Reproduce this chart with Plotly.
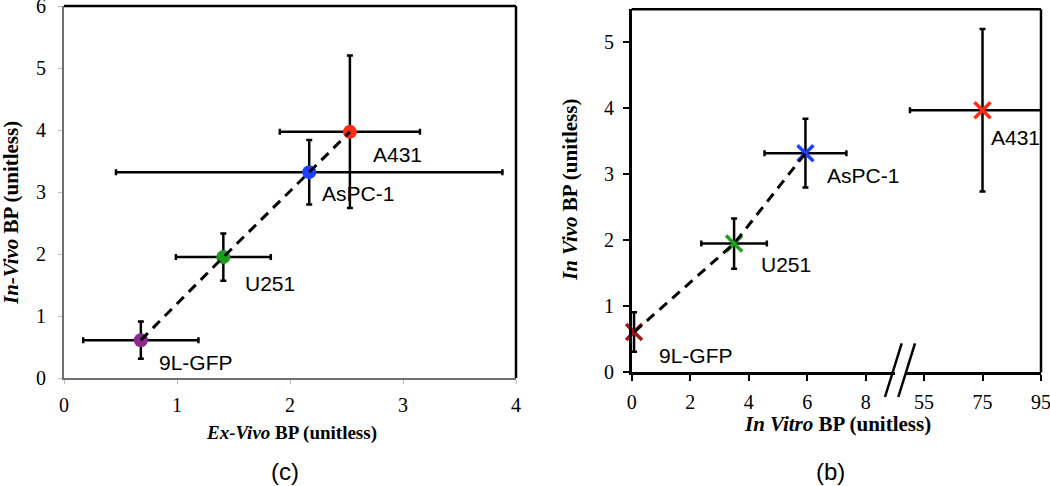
import plotly.graph_objects as go

# ---------------- data ----------------
cell_lines = ["9L-GFP", "U251", "AsPC-1", "A431"]

# panel (c): ex-vivo vs in-vivo binding potential
exvivo_bp = [0.68, 1.41, 2.17, 2.53]
exvivo_err = [0.51, 0.42, 1.71, 0.62]

# in-vivo binding potential (shared by both panels)
invivo_bp = [0.61, 1.95, 3.32, 3.97]
invivo_err = [0.30, 0.38, 0.52, 1.23]

# panel (b): in-vitro binding potential (broken x axis)
invitro_bp = [0.08, 3.50, 5.94, 75.0]
invitro_err = [0.05, 1.12, 1.40, 24.8]

left_ticks = [0, 1, 2, 3, 4]
left_yticks = [0, 1, 2, 3, 4, 5, 6]
right_low_ticks = [0, 2, 4, 6, 8]
right_high_ticks = [55, 75, 95]
right_yticks = [0, 1, 2, 3, 4, 5]

# ---------------- styles ----------------
W, H = 1050, 486
SERIF = "Liberation Serif"
SANS = "Liberation Sans"
circle_colors = ["#8b2a8b", "#1f9a1f", "#1e40ff", "#ff2b12"]
cross_colors = ["#a8161a", "#22a022", "#1e40ff", "#ff2b12"]
# label offsets in screen pixels (right, down) from the data point
left_label_shift = {"9L-GFP": (16, 22), "U251": (20, 26), "AsPC-1": (11, 21), "A431": (21, 23)}
right_label_shift = {"9L-GFP": (23, 23), "U251": (25, 21), "AsPC-1": (20, 22), "A431": (6, 27)}


def px(x):
    return x / W


def py(y):
    return min(1.0, 1 - y / H)


fig = go.Figure()

EB = dict(type="data", color="black", thickness=2.5, width=3)

# ---- left panel (c) ----
for i, name in enumerate(cell_lines):
    fig.add_trace(go.Scatter(
        x=[exvivo_bp[i]], y=[invivo_bp[i]], mode="markers",
        marker=dict(symbol="circle", size=14, color=circle_colors[i]),
        error_x=dict(array=[exvivo_err[i]], **EB),
        error_y=dict(array=[invivo_err[i]], **EB),
        xaxis="x", yaxis="y", showlegend=False, cliponaxis=False))
fig.add_trace(go.Scatter(
    x=exvivo_bp, y=invivo_bp, mode="lines",
    line=dict(color="black", width=3, dash="10px,7px"),
    xaxis="x", yaxis="y", showlegend=False))

# ---- right panel (b) ----
for i, name in enumerate(cell_lines):
    xa = "x3" if invitro_bp[i] > 20 else "x2"
    fig.add_trace(go.Scatter(
        x=[invitro_bp[i]], y=[invivo_bp[i]], mode="markers",
        marker=dict(symbol="x-thin", size=16, line=dict(color=cross_colors[i], width=3.5)),
        error_x=dict(array=[invitro_err[i]], **EB),
        error_y=dict(array=[invivo_err[i]], **EB),
        xaxis=xa, yaxis="y2", showlegend=False, cliponaxis=False))
low_x = [v for v in invitro_bp if v < 20]
low_y = [invivo_bp[i] for i, v in enumerate(invitro_bp) if v < 20]
fig.add_trace(go.Scatter(
    x=low_x, y=low_y, mode="lines",
    line=dict(color="black", width=3, dash="10px,7px"),
    xaxis="x2", yaxis="y2", showlegend=False))

# ---------------- axes ----------------
tickfont_l = dict(family=SERIF, size=20, color="black")
tickfont_r = dict(family=SERIF, size=20, color="black")
common = dict(showgrid=False, zeroline=False, showline=True, automargin=False,
              ticklabeloverflow="allow", ticks="outside")

fig.update_layout(
    width=W, height=H, margin=dict(l=0, r=0, t=0, b=0),
    paper_bgcolor="white", plot_bgcolor="white",
    xaxis=dict(domain=[px(64), px(516)], range=[0, 4], tickvals=left_ticks,
               linecolor="#6f6f6f", linewidth=2, ticklen=4, tickcolor="#bbbbbb", tickwidth=1,
               tickfont=tickfont_l, anchor="y", ticklabelstandoff=4, **common),
    yaxis=dict(domain=[py(378), py(6)], range=[0, 6], tickvals=left_yticks,
               linecolor="#6f6f6f", linewidth=2, ticklen=4, tickcolor="#bbbbbb", tickwidth=1,
               tickfont=tickfont_l, anchor="x", ticklabelstandoff=8, **common),
    xaxis2=dict(domain=[px(631.7), px(895)], range=[0, (895 - 631.7) / 29.25], tickvals=right_low_ticks,
                linecolor="black", linewidth=2.5, ticklen=6, tickcolor="black", tickwidth=2,
                tickfont=tickfont_r, anchor="y2", ticklabelstandoff=4, **common),
    xaxis3=dict(domain=[px(905), px(1041)], range=[55 - (924 - 905) / 2.925, 95], tickvals=right_high_ticks,
                linecolor="black", linewidth=2.5, ticklen=6, tickcolor="black", tickwidth=2,
                tickfont=tickfont_r, anchor="y2", ticklabelstandoff=4, **common),
    yaxis2=dict(domain=[py(372.3), py(9.3)], range=[0, 5.5], tickvals=right_yticks,
                linecolor="black", linewidth=2.5, ticklen=6, tickcolor="black", tickwidth=2,
                tickfont=tickfont_r, anchor="x2", ticklabelstandoff=5, **common),
)

# ---------------- frame lines / break marks ----------------
shapes = [
    dict(type="line", xref="x domain", yref="y domain", x0=0, x1=1, y0=1, y1=1,
         line=dict(color="black", width=2.5)),
    dict(type="line", xref="x domain", yref="y domain", x0=1, x1=1, y0=0, y1=1,
         line=dict(color="black", width=2.5)),
    dict(type="line", xref="paper", yref="y2 domain", x0=px(631.7), x1=px(1041), y0=1, y1=1,
         line=dict(color="black", width=2.5)),
    dict(type="line", xref="x3 domain", yref="y2 domain", x0=1, x1=1, y0=0, y1=1,
         line=dict(color="black", width=2.5)),
    dict(type="line", xref="paper", yref="paper", x0=px(885), y0=py(397), x1=px(901.7), y1=py(343.3),
         line=dict(color="black", width=2.5)),
    dict(type="line", xref="paper", yref="paper", x0=px(898.3), y0=py(397), x1=px(915), y1=py(343.3),
         line=dict(color="black", width=2.5)),
]
fig.update_layout(shapes=shapes)

# ---------------- annotations ----------------
ann = []
for i, name in enumerate(cell_lines):
    dx, dy = left_label_shift[name]
    ann.append(dict(x=exvivo_bp[i], y=invivo_bp[i], xref="x", yref="y", text=name,
                    showarrow=False, xanchor="left", yanchor="middle", xshift=dx, yshift=-dy,
                    font=dict(family=SANS, size=21, color="black")))
    dx, dy = right_label_shift[name]
    xa = "x3" if invitro_bp[i] > 20 else "x2"
    ann.append(dict(x=invitro_bp[i], y=invivo_bp[i], xref=xa, yref="y2", text=name,
                    showarrow=False, xanchor="left", yanchor="middle", xshift=dx, yshift=-dy,
                    font=dict(family=SANS, size=21, color="black")))

titles = [
    ("<b><i>Ex-Vivo</i> BP (unitless)</b>", 291, 433, 0, 19),
    ("<b><i>In-Vivo</i> BP (unitless)</b>", 11, 213, -90, 21),
    ("<b><i>In Vitro</i> BP (unitless)</b>", 837, 424, 0, 21),
    ("<b><i>In Vivo</i> BP (unitless)</b>", 570, 190, -90, 21),
]
for text, x, y, ang, size in titles:
    ann.append(dict(x=px(x), y=py(y), xref="paper", yref="paper", text=text, showarrow=False,
                    textangle=ang, xanchor="center", yanchor="middle",
                    font=dict(family=SERIF, size=size, color="black")))

for text, x, y in [("(c)", 285, 471), ("(b)", 830, 471)]:
    ann.append(dict(x=px(x), y=py(y), xref="paper", yref="paper", text=text, showarrow=False,
                    xanchor="center", yanchor="middle",
                    font=dict(family=SANS, size=24, color="black")))

fig.update_layout(annotations=ann)
fig.write_html("out.html", config={"displayModeBar": False},
               post_script="document.body.style.margin='0px';")
